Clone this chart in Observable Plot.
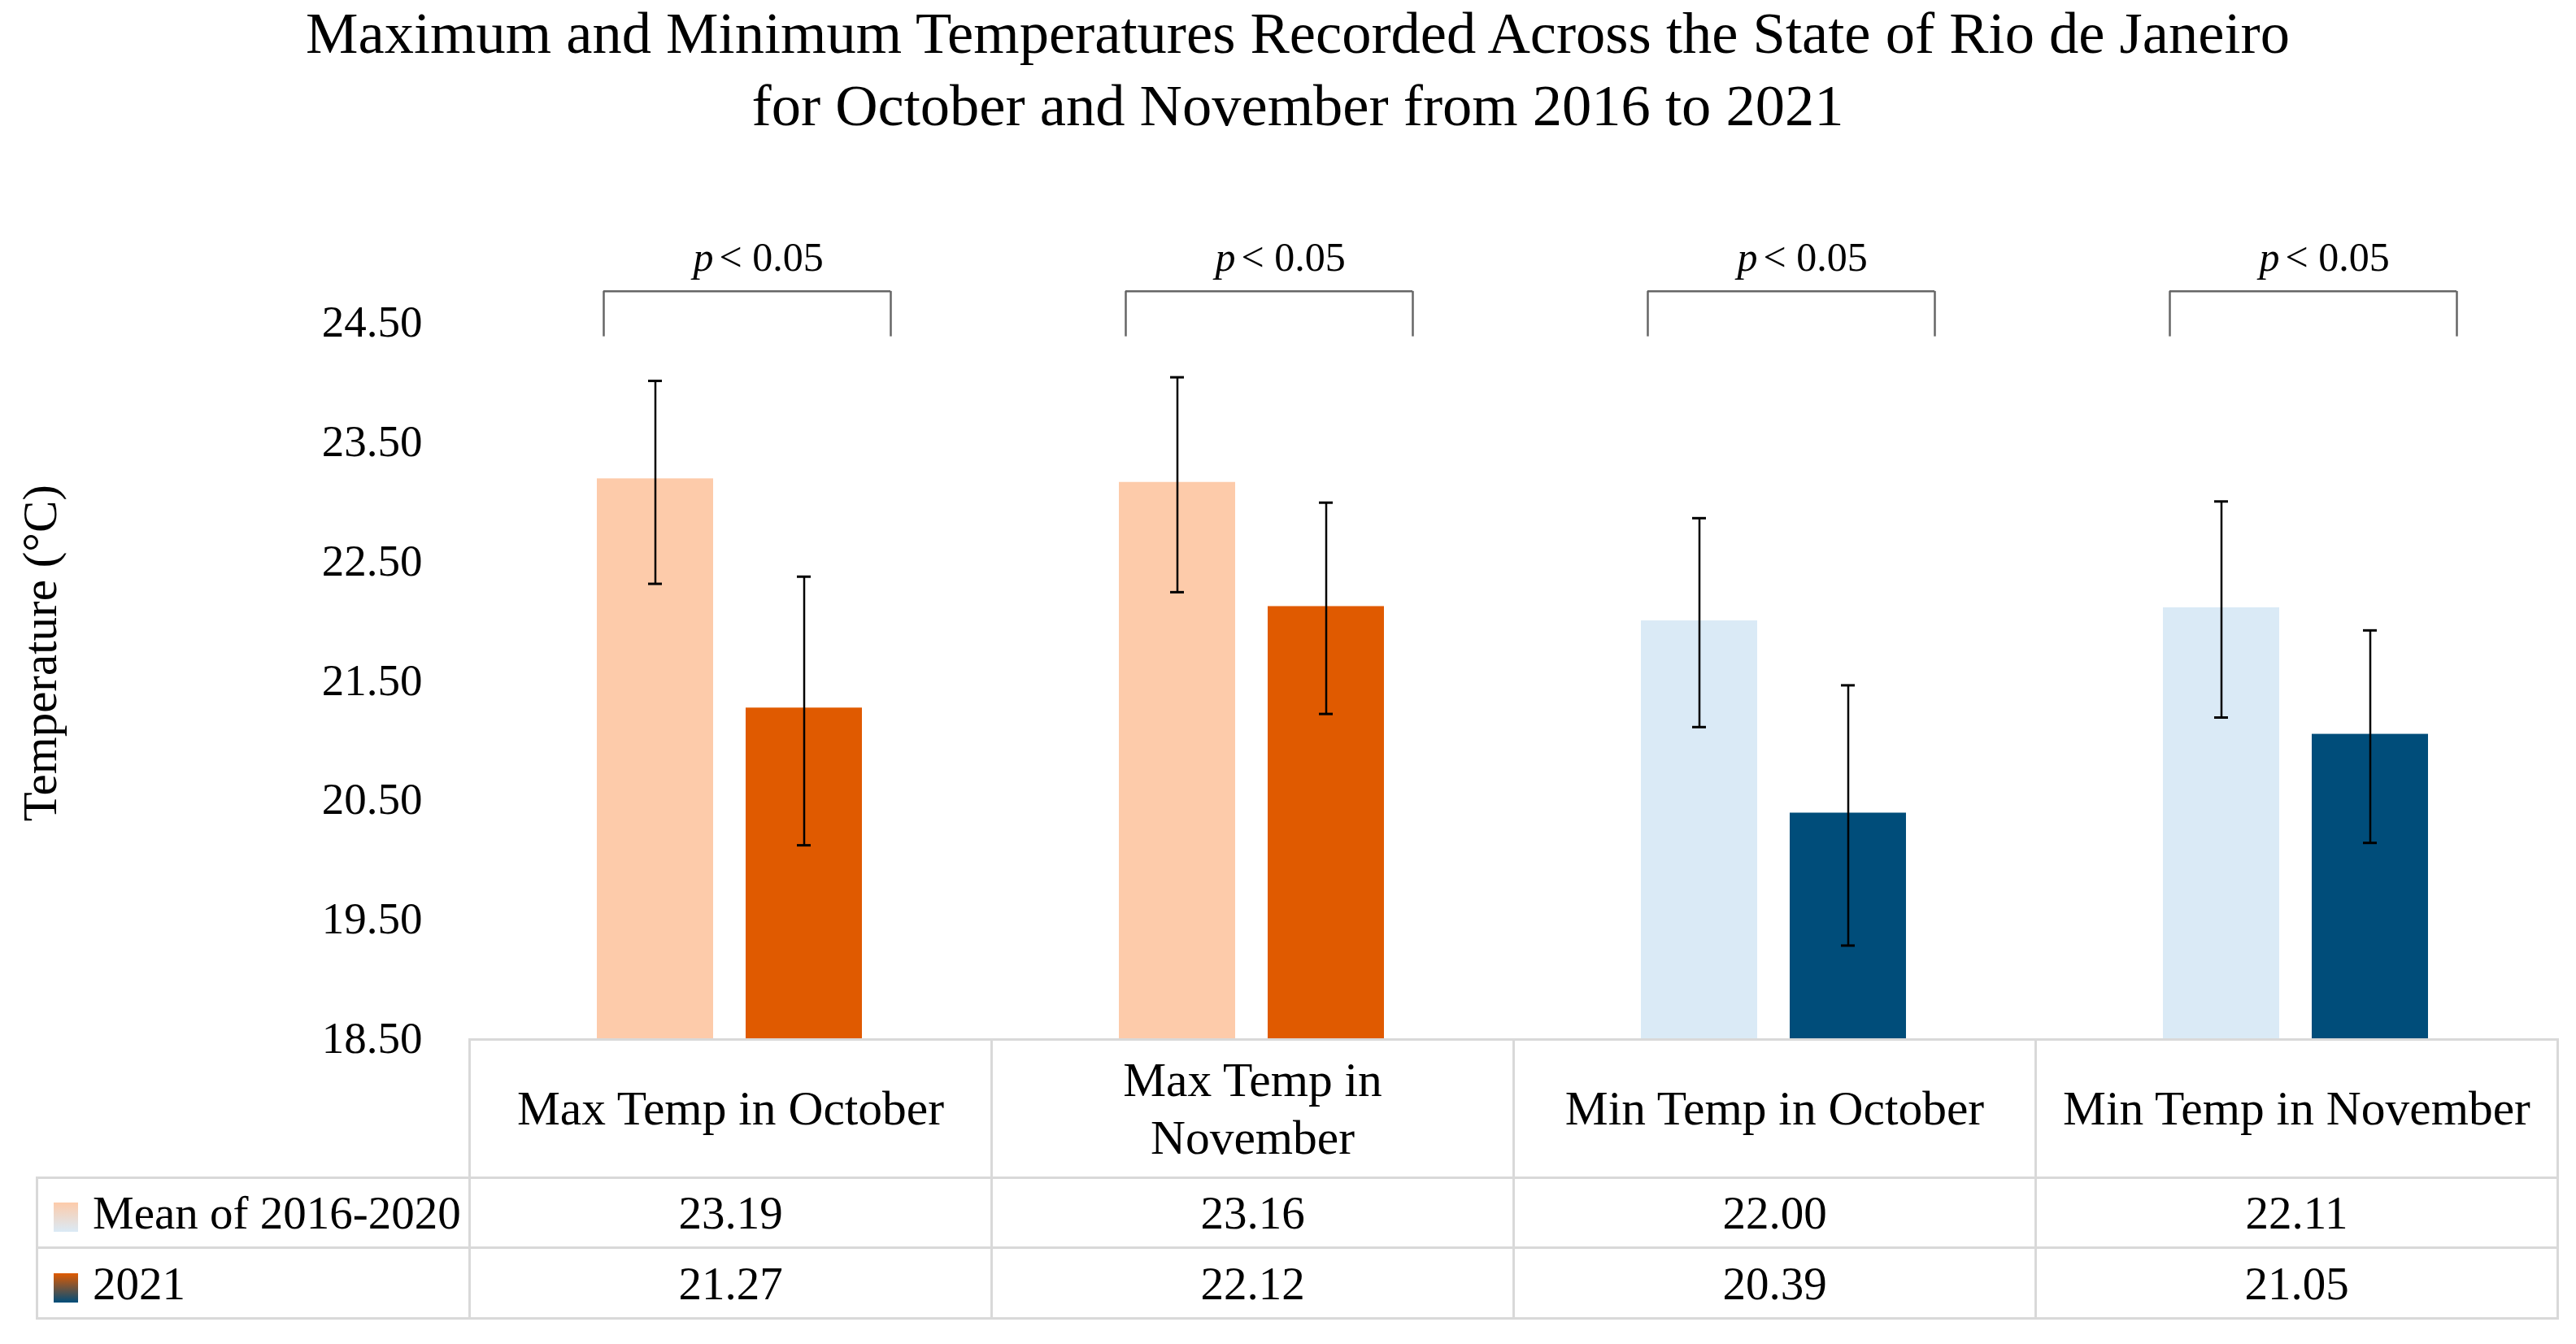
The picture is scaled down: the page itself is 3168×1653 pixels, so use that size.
<!DOCTYPE html>
<html><head><meta charset="utf-8">
<script src="https://cdn.jsdelivr.net/npm/d3@7"></script>
<script src="https://cdn.jsdelivr.net/npm/@observablehq/plot@0.6"></script>
<style>
body{margin:0;background:#fff;width:3168px;height:1653px;position:relative;overflow:hidden;font-family:"Palatino Linotype","Book Antiqua",Palatino,"Liberation Serif",serif;color:#000}
#title{position:absolute;left:12px;top:-4px;width:3168px;text-align:center;font-size:72.5px;line-height:89px}
#chart{position:absolute;left:0;top:200px}
#tbl{position:absolute;left:44px;top:1277px;border-collapse:collapse;table-layout:fixed;font-size:57px}
#tbl td{border:3px solid #d9d9d9;text-align:center;padding:0;vertical-align:middle}
#tbl td.blank{border-top:none;border-left:none}
#tbl td.hdr{line-height:71px;font-size:59.5px}
#tbl td.lab{text-align:left;padding-left:19px;white-space:nowrap}
.sw{display:inline-block;width:30px;height:36px;vertical-align:-4px;margin-right:18px}
</style></head><body>
<div id="title">Maximum and Minimum Temperatures Recorded Across the State of Rio de Janeiro<br>for October and November from 2016 to 2021</div>
<div id="chart"></div>
<table id="tbl"></table>
<script>
// ---- data ----
const categories = ["Max Temp in October", "Max Temp in November", "Min Temp in October", "Min Temp in November"];
const headerLines = [["Max Temp in October"], ["Max Temp in", "November"], ["Min Temp in October"], ["Min Temp in November"]];
const series = ["Mean of 2016-2020", "2021"];
const meanValues = [23.19, 23.16, 22.00, 22.11];
const values2021 = [21.27, 22.12, 20.39, 21.05];
const meanLow = [22.31, 22.24, 21.11, 21.19];
const meanHigh = [24.01, 24.04, 22.86, 23.00];
const low2021 = [20.12, 21.22, 19.28, 20.14];
const high2021 = [22.37, 22.99, 21.46, 21.92];
const yTicks = [18.5, 19.5, 20.5, 21.5, 22.5, 23.5, 24.5];
const yLabel = "Temperature (°C)";
const yLabelAt = 21.73;
const pText = ["< 0.05", "< 0.05", "< 0.05", "< 0.05"];
const bracketTop = 24.76, bracketLeg = 24.38, pLabelY = 25.04;
const colorsMean = ["#FDCBAA", "#FDCBAA", "#DAEAF6", "#DAEAF6"];
const colors2021 = ["#E05A00", "#E05A00", "#004D7A", "#004D7A"];

// ---- tidy rows ----
const rows = [];
categories.forEach((c, i) => {
  rows.push({cat: c, series: series[0], value: meanValues[i], lo: meanLow[i], hi: meanHigh[i], color: colorsMean[i]});
  rows.push({cat: c, series: series[1], value: values2021[i], lo: low2021[i], hi: high2021[i], color: colors2021[i]});
});
const brackets = categories.map((c, i) => ({cat: c, top: bracketTop, leg: bracketLeg, ly: pLabelY, txt: pText[i]}));
const font = '"Palatino Linotype","Book Antiqua",Palatino,"Liberation Serif",serif';

const chart = Plot.plot({
  width: 3168, height: 1077,
  marginLeft: 576, marginRight: 24, marginTop: 196, marginBottom: 0,
  style: {fontFamily: font, fontSize: "55px", color: "#000", background: "transparent", overflow: "visible"},
  fx: {domain: categories, padding: 0, axis: null},
  x: {domain: series, paddingInner: 0.22, paddingOuter: 0.857, axis: null},
  y: {domain: [yTicks[0], yTicks[yTicks.length - 1]], ticks: yTicks, tickFormat: d => d.toFixed(2), tickSize: 0, tickPadding: 57, label: null},
  marks: [
    Plot.barY(rows, {fx: "cat", x: "series", y1: yTicks[0], y2: "value", fill: "color"}),
    Plot.ruleX(rows, {fx: "cat", x: "series", y1: "lo", y2: "hi", stroke: "#000", strokeWidth: 2.5}),
    Plot.tickY(rows, {fx: "cat", x: "series", y: "lo", stroke: "#000", strokeWidth: 3, inset: 63}),
    Plot.tickY(rows, {fx: "cat", x: "series", y: "hi", stroke: "#000", strokeWidth: 3, inset: 63}),
    Plot.ruleY(brackets, {fx: "cat", y: "top", stroke: "#666", strokeWidth: 2.5, insetLeft: 166, insetRight: 123}),
    Plot.ruleX(brackets, {fx: "cat", x: null, y1: "leg", y2: "top", stroke: "#666", strokeWidth: 2.5, dx: -155}),
    Plot.ruleX(brackets, {fx: "cat", x: null, y1: "leg", y2: "top", stroke: "#666", strokeWidth: 2.5, dx: 198}),
    Plot.text(brackets, {fx: "cat", y: "ly", text: () => "p", fontStyle: "italic", textAnchor: "end", dx: -20, fontSize: 50}),
    Plot.text(brackets, {fx: "cat", y: "ly", text: "txt", textAnchor: "start", dx: -13, fontSize: 50}),
    Plot.text([yLabel], {y: yLabelAt, text: d => d, frameAnchor: "left", textAnchor: "middle", lineAnchor: "middle", rotate: -90, dx: -526, fontSize: 59, fx: () => categories[0]})
  ]
});
document.getElementById("chart").appendChild(chart);

// ---- table ----
const tbl = document.getElementById("tbl");
const cg = document.createElement("colgroup");
[532, 642, 642, 642, 642].forEach(w => { const c = document.createElement("col"); c.style.width = w + "px"; cg.appendChild(c); });
tbl.appendChild(cg);
const hr = tbl.insertRow(); hr.style.height = "170px";
const b = hr.insertCell(); b.className = "blank";
headerLines.forEach(lines => { const td = hr.insertCell(); td.className = "hdr"; td.innerHTML = lines.join("<br>"); });
const swatches = [
  `linear-gradient(to bottom, ${colorsMean[0]}, ${colorsMean[2]})`,
  `linear-gradient(to bottom, ${colors2021[0]}, ${colors2021[2]})`
];
[meanValues, values2021].forEach((vals, si) => {
  const r = tbl.insertRow(); r.style.height = si === 0 ? "86px" : "87px";
  const lab = r.insertCell(); lab.className = "lab";
  const sw = document.createElement("span"); sw.className = "sw"; sw.style.background = swatches[si];
  lab.appendChild(sw); lab.appendChild(document.createTextNode(series[si]));
  vals.forEach(v => { const td = r.insertCell(); td.textContent = v.toFixed(2); });
});
</script>
</body></html>
